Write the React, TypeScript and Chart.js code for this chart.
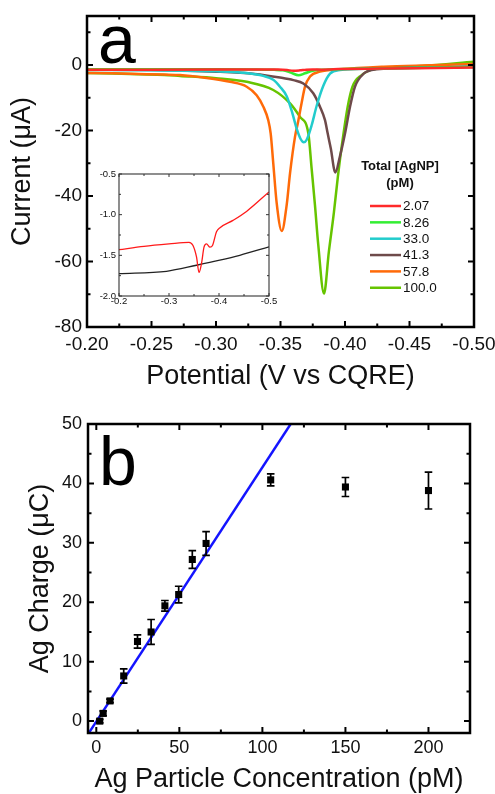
import React, { useEffect, useRef } from "react";
import { Chart, registerables } from "chart.js";

Chart.register(...registerables);

const FONT = "'Liberation Sans', Arial, Helvetica, sans-serif";

// ---------------- Panel a : voltammograms ----------------
const seriesLabels = ["2.07", "8.26", "33.0", "41.3", "57.8", "100.0"];
const seriesColors = ["#ff2a2a", "#33ee33", "#22cccc", "#6e4a4a", "#ff6a08", "#66c400"];

const v207 = [-0.2, -0.25, -0.3, -0.34, -0.348, -0.355, -0.36, -0.365, -0.37, -0.375, -0.382, -0.387, -0.395, -0.402, -0.428, -0.455, -0.5];
const i207 = [-1.43, -1.39, -1.36, -1.34, -1.38, -1.52, -1.71, -1.6, -1.4, -1.36, -1.4, -1.38, -1.21, -1.16, -1.07, -0.96, -0.72];

const v826 = [-0.2, -0.25, -0.3, -0.33, -0.345, -0.352, -0.358, -0.364, -0.369, -0.375, -0.385, -0.4, -0.45, -0.5];
const i826 = [-1.3, -1.3, -1.3, -1.35, -1.45, -1.6, -2.3, -3.1, -2.5, -1.7, -1.4, -1.2, -0.9, -0.6];

const v330 = [-0.2, -0.25, -0.3, -0.32, -0.3367, -0.3444, -0.3496, -0.3548, -0.3587, -0.3626, -0.3655, -0.368, -0.3703, -0.3742, -0.378, -0.3832, -0.3884, -0.3961, -0.42, -0.46, -0.5];
const i330 = [-1.5, -1.6, -1.9, -2.3, -3.3, -4.5, -6.6, -9.5, -14.0, -19.5, -22.5, -23.6, -22.8, -18.3, -12.5, -6.3, -2.6, -1.5, -1.1, -0.8, -0.5];

const v413 = [-0.2, -0.25, -0.3, -0.33, -0.3496, -0.36, -0.3677, -0.3754, -0.3806, -0.3845, -0.3866, -0.389, -0.3925, -0.396, -0.4, -0.4039, -0.4077, -0.4142, -0.4245, -0.46, -0.5];
const i413 = [-1.4, -1.5, -2.0, -2.7, -3.8, -4.6, -5.6, -8.6, -12.7, -16.8, -20.9, -25.5, -32.8, -28.0, -20.9, -12.7, -6.6, -2.7, -1.3, -0.8, -0.4];

const v578 = [-0.2, -0.22, -0.24, -0.26, -0.2721, -0.29, -0.3109, -0.3238, -0.3315, -0.3367, -0.3405, -0.3424, -0.3444, -0.347, -0.351, -0.3548, -0.3574, -0.3612, -0.3638, -0.3664, -0.369, -0.3729, -0.3806, -0.396, -0.43, -0.46, -0.5];
const i578 = [-2.4, -2.5, -2.7, -2.9, -3.05, -3.8, -5.1, -6.6, -9.2, -12.7, -16.8, -20.9, -30.0, -42.0, -50.7, -42.7, -33.0, -22.0, -17.0, -11.5, -6.6, -3.5, -2.0, -1.3, -0.5, -0.1, 0.3];

const v1000 = [-0.2, -0.22, -0.24, -0.26, -0.2721, -0.3, -0.3238, -0.3444, -0.3574, -0.3651, -0.3716, -0.3741, -0.3767, -0.3793, -0.3837, -0.3875, -0.3914, -0.3945, -0.3974, -0.4021, -0.4058, -0.4129, -0.4219, -0.46, -0.5];
const i1000 = [-2.4, -2.6, -2.8, -3.0, -3.3, -4.0, -5.1, -7.6, -11.7, -15.8, -20.9, -31.5, -42.7, -55.0, -69.8, -57.0, -45.0, -34.0, -25.0, -12.7, -6.6, -3.05, -1.3, -0.3, 1.0];

const seriesV = [v207, v826, v330, v413, v578, v1000];
const seriesI = [i207, i826, i330, i413, i578, i1000];

const xTicksA = [-0.2, -0.25, -0.3, -0.35, -0.4, -0.45, -0.5];
const xMinorA = [-0.225, -0.275, -0.325, -0.375, -0.425, -0.475];
const yTicksA = [0, -20, -40, -60, -80];
const yMinorA = [10, -10, -30, -50, -70];

// inset (zoom of the 2.07 pM curve and the blank)
const vBlank = [-0.2, -0.295, -0.355, -0.4016, -0.4416, -0.5];
const iBlank = [-1.725, -1.696, -1.622, -1.56, -1.5, -1.396];
const xTicksInset = [-0.2, -0.3, -0.4, -0.5];
const xMinorInset = [-0.25, -0.35, -0.45];
const yTicksInset = [-0.5, -1.0, -1.5, -2.0];
const yMinorInset = [-0.75, -1.25, -1.75];

// ---------------- Panel b : charge vs concentration ----------------
const concB = [2.07, 4.13, 8.26, 16.5, 24.8, 33.0, 41.3, 49.6, 57.8, 66.1, 105, 150, 200];
const chargeB = [0, 1.3, 3.4, 7.6, 13.4, 15.0, 19.4, 21.3, 27.2, 29.9, 40.6, 39.4, 38.8];
const errB = [0.3, 0.4, 0.3, 1.2, 1.1, 2.1, 0.9, 1.4, 1.5, 2.0, 1.0, 1.6, 3.1];
const fitX = [-5, 117.5];
const fitY = [-2.2, 50.2];
const xTicksB = [0, 50, 100, 150, 200];
const xMinorB = [25, 75, 125, 175, 225];
const yTicksB = [0, 10, 20, 30, 40, 50];
const yMinorB = [5, 15, 25, 35, 45];

// ---------------- plugins ----------------
const framePlugin = {
  id: "frame",
  beforeDraw(chart: any, _a: any, o: any) {
    if (!o || !o.fill) return;
    const { ctx, chartArea: c } = chart;
    ctx.save();
    ctx.fillStyle = o.fill;
    ctx.fillRect(c.left, c.top, c.right - c.left, c.bottom - c.top);
    ctx.restore();
  },
  afterDatasetsDraw(chart: any, _a: any, o: any) {
    if (!o || !o.show) return;
    const { ctx, chartArea: c, scales } = chart;
    const x = scales.x, y = scales.y;
    ctx.save();
    ctx.strokeStyle = o.color;
    ctx.lineWidth = o.tickWidth;
    const xt = (vals: number[], len: number) => {
      vals.forEach((v) => {
        const p = x.getPixelForValue(v);
        if (p < c.left - 0.5 || p > c.right + 0.5) return;
        ctx.beginPath();
        ctx.moveTo(p, c.bottom);
        ctx.lineTo(p, c.bottom - len);
        ctx.moveTo(p, c.top);
        ctx.lineTo(p, c.top + len);
        ctx.stroke();
      });
    };
    const yt = (vals: number[], len: number) => {
      vals.forEach((v) => {
        const p = y.getPixelForValue(v);
        if (p < c.top - 0.5 || p > c.bottom + 0.5) return;
        ctx.beginPath();
        ctx.moveTo(c.left, p);
        ctx.lineTo(c.left + len, p);
        ctx.moveTo(c.right, p);
        ctx.lineTo(c.right - len, p);
        ctx.stroke();
      });
    };
    xt(o.xMajor, o.majorLen);
    xt(o.xMinor, o.minorLen);
    yt(o.yMajor, o.majorLen);
    yt(o.yMinor, o.minorLen);
    ctx.lineWidth = o.lineWidth;
    ctx.strokeRect(c.left, c.top, c.right - c.left, c.bottom - c.top);
    ctx.restore();
  },
};

const letterPlugin = {
  id: "letter",
  afterDraw(chart: any, _a: any, o: any) {
    if (!o || !o.text) return;
    const { ctx } = chart;
    ctx.save();
    ctx.fillStyle = "#000";
    ctx.font = `${o.size}px ${FONT}`;
    ctx.textBaseline = "alphabetic";
    ctx.textAlign = "left";
    ctx.fillText(o.text, o.x, o.y);
    ctx.restore();
  },
};

const legendPlugin = {
  id: "legendBox",
  afterDraw(chart: any, _a: any, o: any) {
    if (!o || !o.show) return;
    const { ctx } = chart;
    ctx.save();
    ctx.fillStyle = "#111";
    ctx.font = `bold 13px ${FONT}`;
    ctx.textAlign = "center";
    ctx.textBaseline = "middle";
    o.title.forEach((t: string, k: number) => ctx.fillText(t, o.titleX, o.titleY + k * 16.6));
    ctx.font = `13.5px ${FONT}`;
    ctx.textAlign = "left";
    chart.data.datasets.forEach((ds: any, k: number) => {
      const yy = o.y0 + k * o.step;
      ctx.strokeStyle = ds.borderColor;
      ctx.lineWidth = 2.5;
      ctx.beginPath();
      ctx.moveTo(o.x0, yy);
      ctx.lineTo(o.x1, yy);
      ctx.stroke();
      ctx.fillText(ds.label, o.x1 + 2, yy + 0.5);
    });
    ctx.restore();
  },
};

const errorPlugin = {
  id: "errBars",
  afterDatasetsDraw(chart: any, _a: any, o: any) {
    if (!o || !o.xs) return;
    const { ctx, scales } = chart;
    ctx.save();
    ctx.strokeStyle = "#000";
    ctx.lineWidth = 1.7;
    o.xs.forEach((xv: number, k: number) => {
      const px = scales.x.getPixelForValue(xv);
      const p1 = scales.y.getPixelForValue(o.ys[k] + o.errs[k]);
      const p2 = scales.y.getPixelForValue(o.ys[k] - o.errs[k]);
      ctx.beginPath();
      ctx.moveTo(px, p1);
      ctx.lineTo(px, p2);
      ctx.moveTo(px - 3.8, p1);
      ctx.lineTo(px + 3.8, p1);
      ctx.moveTo(px - 3.8, p2);
      ctx.lineTo(px + 3.8, p2);
      ctx.stroke();
    });
    ctx.restore();
  },
};

function fixedAxis(
  ticksArr: number[],
  fmt: (v: number) => string,
  size: number,
  pad: number,
  fit: (s: any) => void,
  extra: any = {}
) {
  return {
    type: "linear",
    grid: { display: false, drawTicks: false },
    border: { display: false },
    afterBuildTicks: (s: any) => {
      s.ticks = ticksArr.map((v) => ({ value: v }));
    },
    afterFit: (s: any) => {
      fit(s);
      s.paddingLeft = 0;
      s.paddingRight = 0;
      s.paddingTop = 0;
      s.paddingBottom = 0;
    },
    ticks: {
      font: { family: FONT, size },
      color: "#111",
      padding: pad,
      maxRotation: 0,
      minRotation: 0,
      autoSkip: false,
      callback: (v: any) => fmt(Number(v)),
    },
    ...extra,
  };
}

export default function App() {
  const refA = useRef<HTMLCanvasElement>(null);
  const refInset = useRef<HTMLCanvasElement>(null);
  const refB = useRef<HTMLCanvasElement>(null);

  useEffect(() => {
    const charts: Chart[] = [];

    // ----- main panel a -----
    const datasetsA = seriesLabels.map((lab, k) => ({
      label: lab,
      data: seriesV[k].map((v, j) => ({ x: v, y: seriesI[k][j] })),
      borderColor: seriesColors[k],
      backgroundColor: seriesColors[k],
      borderWidth: 2.5,
      pointRadius: 0,
      cubicInterpolationMode: "monotone",
      fill: false,
    }));
    charts.push(
      new Chart(refA.current as HTMLCanvasElement, {
        type: "line",
        data: { datasets: datasetsA as any },
        options: {
          responsive: false,
          animation: false,
          parsing: false,
          layout: { padding: { left: 0, top: 16, right: 21, bottom: 0 } },
          plugins: {
            legend: { display: false },
            tooltip: { enabled: false },
            frame: {
              show: true, color: "#000", lineWidth: 2.5, tickWidth: 2,
              majorLen: 6, minorLen: 3.5,
              xMajor: xTicksA, xMinor: xMinorA, yMajor: yTicksA, yMinor: yMinorA,
            },
            letter: { text: "a", size: 68, x: 98, y: 63 },
            legendBox: {
              show: true, title: ["Total [AgNP]", "(pM)"], titleX: 400, titleY: 166.7,
              x0: 370, x1: 401, y0: 206, step: 16.35,
            },
          } as any,
          scales: {
            x: fixedAxis(xTicksA, (v) => v.toFixed(2), 19, 6, (s) => { s.height = 73; }, {
              min: -0.5, max: -0.2, reverse: true,
              title: { display: true, text: "Potential (V vs CQRE)", color: "#111",
                font: { family: FONT, size: 27 }, padding: { top: 0, bottom: 7 } },
            }),
            y: fixedAxis(yTicksA, (v) => String(v), 19, 5, (s) => { s.width = 87; }, {
              min: -80, max: 15,
              title: { display: true, text: "Current (μA)", color: "#111",
                font: { family: FONT, size: 27 }, padding: { top: 6, bottom: 0 } },
            }),
          } as any,
        },
        plugins: [framePlugin, letterPlugin, legendPlugin],
      })
    );

    // ----- inset -----
    charts.push(
      new Chart(refInset.current as HTMLCanvasElement, {
        type: "line",
        data: {
          datasets: [
            {
              label: "2.07",
              data: v207.map((v, j) => ({ x: v, y: i207[j] })),
              borderColor: "#ff1a1a",
              borderWidth: 1.3,
              pointRadius: 0,
              cubicInterpolationMode: "monotone",
            },
            {
              label: "blank",
              data: vBlank.map((v, j) => ({ x: v, y: iBlank[j] })),
              borderColor: "#222222",
              borderWidth: 1.3,
              pointRadius: 0,
              cubicInterpolationMode: "monotone",
            },
          ] as any,
        },
        options: {
          responsive: false,
          animation: false,
          parsing: false,
          layout: { padding: { left: 0, top: 14, right: 11, bottom: 0 } },
          plugins: {
            legend: { display: false },
            tooltip: { enabled: false },
            frame: {
              show: true, fill: "#ffffff", color: "#333", lineWidth: 1.1, tickWidth: 1,
              majorLen: 3, minorLen: 2,
              xMajor: xTicksInset, xMinor: xMinorInset, yMajor: yTicksInset, yMinor: yMinorInset,
            },
          } as any,
          scales: {
            x: fixedAxis(xTicksInset, (v) => v.toFixed(1), 9.5, 0, (s) => { s.height = 14; }, {
              min: -0.5, max: -0.2, reverse: true,
            }),
            y: fixedAxis(yTicksInset, (v) => v.toFixed(1), 9.5, 3, (s) => { s.width = 49; }, {
              min: -2.0, max: -0.5,
            }),
          } as any,
        },
        plugins: [framePlugin],
      })
    );

    // ----- panel b -----
    charts.push(
      new Chart(refB.current as HTMLCanvasElement, {
        type: "scatter",
        data: {
          datasets: [
            {
              label: "fit",
              data: fitX.map((v, j) => ({ x: v, y: fitY[j] })),
              showLine: true,
              borderColor: "#1414ff",
              borderWidth: 2.5,
              pointRadius: 0,
              order: 2,
            },
            {
              label: "data",
              data: concB.map((v, j) => ({ x: v, y: chargeB[j] })),
              pointStyle: "rect",
              pointRadius: 5,
              backgroundColor: "#000",
              borderColor: "#000",
              borderWidth: 0,
              order: 1,
            },
          ] as any,
        },
        options: {
          responsive: false,
          animation: false,
          parsing: false,
          layout: { padding: { left: 0, top: 24, right: 25, bottom: 0 } },
          plugins: {
            legend: { display: false },
            tooltip: { enabled: false },
            frame: {
              show: true, color: "#000", lineWidth: 2.5, tickWidth: 2,
              majorLen: 6, minorLen: 3.5,
              xMajor: xTicksB, xMinor: xMinorB, yMajor: yTicksB, yMinor: yMinorB,
            },
            letter: { text: "b", size: 68, x: 99, y: 85 },
            errBars: { xs: concB, ys: chargeB, errs: errB },
          } as any,
          scales: {
            x: fixedAxis(xTicksB, (v) => String(v), 18, 4, (s) => { s.height = 63; }, {
              min: -5, max: 225,
              title: { display: true, text: "Ag Particle Concentration (pM)", color: "#111",
                font: { family: FONT, size: 27 }, padding: { top: 0, bottom: 0 } },
            }),
            y: fixedAxis(yTicksB, (v) => String(v), 18, 6, (s) => { s.width = 88; }, {
              min: -2, max: 50,
              title: { display: true, text: "Ag Charge (μC)", color: "#111",
                font: { family: FONT, size: 27 }, padding: { top: 24, bottom: 0 } },
            }),
          } as any,
        },
        plugins: [framePlugin, letterPlugin, errorPlugin],
      })
    );

    return () => charts.forEach((c) => c.destroy());
  }, []);

  return (
    <div style={{ position: "absolute", left: 0, top: 0, width: 495, height: 794, background: "#fff", overflow: "hidden" }}>
      <canvas ref={refA} width={495} height={400} style={{ position: "absolute", left: 0, top: 0 }} />
      <canvas ref={refInset} width={210} height={150} style={{ position: "absolute", left: 70, top: 160 }} />
      <canvas ref={refB} width={495} height={396} style={{ position: "absolute", left: 0, top: 400 }} />
    </div>
  );
}
